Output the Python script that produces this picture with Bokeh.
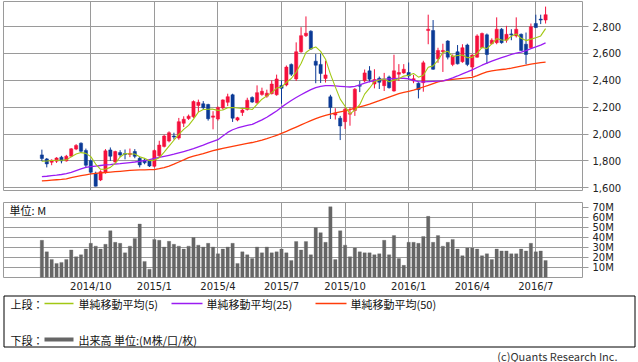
import pandas as pd
from bokeh.plotting import figure
from bokeh.layouts import column
from bokeh.models import Range1d, FixedTicker, NumeralTickFormatter, Label
from bokeh.embed import file_html
from bokeh.resources import INLINE
from bokeh.core.properties import value

# ---------------- data (weekly candles) ----------------
first_week = "2014-07-21"
opens = [1845, 1815, 1790, 1798, 1828, 1800, 1835, 1888, 1932, 1878,
         1802, 1708, 1658, 1716, 1882, 1792, 1862, 1855, 1848, 1870,
         1820, 1806, 1800, 1760, 1838, 1908, 1948, 1985, 1970, 2080,
         2115, 2128, 2212, 2225, 2220, 2125, 2112, 2194, 2236, 2292,
         2104, 2160, 2182, 2272, 2232, 2295, 2282, 2300, 2292, 2362,
         2365, 2518, 2410, 2612, 2732, 2765, 2542, 2518, 2414, 2277,
         2142, 2118, 2092, 2148, 2175, 2362, 2396, 2470, 2372, 2415,
         2360, 2425, 2320, 2445, 2455, 2458, 2395, 2378, 2382, 2770,
         2770, 2560, 2612, 2692, 2518, 2612, 2538, 2662, 2498, 2572,
         2642, 2738, 2672, 2680, 2780, 2698, 2745, 2730, 2742, 2668,
         2642, 2822, 2855, 2848]
highs = [1884, 1822, 1812, 1828, 1838, 1845, 1895, 1925, 1938, 1892,
         1810, 1720, 1730, 1888, 1900, 1876, 1880, 1885, 1892, 1888,
         1832, 1818, 1810, 1885, 1950, 1995, 2020, 2010, 2120, 2132,
         2145, 2250, 2256, 2245, 2225, 2170, 2205, 2258, 2300, 2300,
         2128, 2195, 2270, 2280, 2362, 2345, 2330, 2400, 2442, 2400,
         2510, 2525, 2682, 2795, 2875, 2772, 2595, 2598, 2545, 2292,
         2192, 2135, 2198, 2198, 2342, 2395, 2480, 2505, 2482, 2428,
         2455, 2435, 2590, 2520, 2520, 2532, 2440, 2385, 2545, 2888,
         2848, 2642, 2672, 2698, 2592, 2662, 2668, 2672, 2592, 2742,
         2755, 2748, 2712, 2868, 2788, 2805, 2780, 2868, 2748, 2755,
         2822, 2888, 2888, 2948]
lows = [1798, 1752, 1768, 1785, 1782, 1795, 1828, 1880, 1862, 1755,
        1705, 1610, 1650, 1705, 1800, 1785, 1828, 1812, 1828, 1820,
        1752, 1775, 1755, 1752, 1830, 1900, 1938, 1960, 1958, 2052,
        2105, 2120, 2162, 2182, 2100, 2035, 2100, 2182, 2208, 2090,
        2095, 2135, 2175, 2232, 2225, 2285, 2270, 2295, 2285, 2225,
        2355, 2432, 2395, 2605, 2722, 2625, 2378, 2380, 2383, 2112,
        2108, 1955, 2038, 2062, 2135, 2312, 2385, 2385, 2340, 2335,
        2320, 2338, 2315, 2395, 2448, 2405, 2378, 2265, 2315, 2668,
        2478, 2530, 2462, 2555, 2505, 2518, 2530, 2505, 2430, 2568,
        2638, 2522, 2668, 2668, 2672, 2680, 2698, 2718, 2618, 2518,
        2638, 2790, 2818, 2822]
closes = [1818, 1778, 1805, 1822, 1800, 1835, 1890, 1915, 1872, 1768,
          1716, 1612, 1720, 1875, 1835, 1870, 1845, 1848, 1856, 1834,
          1770, 1786, 1762, 1877, 1918, 1985, 2010, 1978, 2092, 2110,
          2133, 2242, 2236, 2196, 2114, 2135, 2198, 2254, 2278, 2118,
          2122, 2178, 2252, 2238, 2308, 2318, 2304, 2372, 2410, 2340,
          2498, 2445, 2612, 2732, 2750, 2632, 2512, 2450, 2440, 2197,
          2155, 2060, 2185, 2155, 2333, 2356, 2455, 2408, 2405, 2385,
          2400, 2345, 2470, 2458, 2482, 2432, 2412, 2330, 2530, 2780,
          2482, 2622, 2622, 2572, 2580, 2522, 2642, 2518, 2588, 2730,
          2748, 2592, 2698, 2780, 2680, 2742, 2738, 2780, 2622, 2592,
          2798, 2792, 2848, 2888]
volumes_m = [37, 25.5, 18, 14, 15, 18, 27.4, 20.7, 22.6, 28.3,
             34, 31.2, 28.3, 33, 46.5, 35, 34, 24.5, 31.2, 38.9,
             53.2, 16, 8.3, 37.9, 37, 30.3, 36, 33, 31.2, 28.3,
             31.2, 39.8, 32.2, 30.3, 34, 30.3, 23.6, 28.3, 30.3, 34,
             14, 25.5, 22.6, 18.8, 30.3, 24.5, 30.3, 24.5, 25.5, 28.3,
             24.5, 17, 35.8, 27.4, 35.7, 22.6, 49.4, 44.6, 35, 70.4,
             17.8, 46.5, 32.2, 20.7, 29.3, 25.5, 24.5, 24.5, 22.6, 23.6,
             37, 22.6, 41.7, 18.8, 12.1, 35, 35, 34, 40.8, 60.8,
             35, 41.7, 31.2, 35, 37.9, 28.3, 21.7, 29.3, 29.3, 28.3,
             21.7, 23.6, 17.8, 28.3, 26.4, 26.4, 23.6, 23.6, 28.3, 26.4,
             34, 25.5, 26.4, 16.9]
ma5 = [1798, 1800, 1803, 1805, 1805, 1808, 1830, 1852, 1862, 1856,
       1832, 1777, 1738, 1738, 1752, 1782, 1829, 1855, 1851, 1851,
       1831, 1819, 1802, 1806, 1823, 1866, 1910, 1954, 1997, 2035,
       2065, 2111, 2163, 2183, 2184, 2185, 2176, 2179, 2196, 2197,
       2194, 2190, 2190, 2182, 2220, 2259, 2284, 2308, 2342, 2349,
       2385, 2413, 2461, 2525, 2607, 2634, 2648, 2615, 2557, 2446,
       2351, 2260, 2207, 2150, 2178, 2218, 2297, 2341, 2391, 2402,
       2411, 2389, 2401, 2412, 2431, 2437, 2451, 2423, 2437, 2497,
       2507, 2549, 2607, 2616, 2576, 2584, 2588, 2567, 2570, 2600,
       2645, 2635, 2671, 2710, 2700, 2698, 2728, 2744, 2712, 2695,
       2706, 2717, 2730, 2784]
ma25 = [1683, 1686, 1690, 1694, 1699, 1705, 1715, 1728, 1740, 1752,
        1758, 1762, 1766, 1770, 1773, 1777, 1780, 1784, 1788, 1792,
        1797, 1803, 1810, 1818, 1826, 1834, 1842, 1850, 1860, 1870,
        1880, 1892, 1905, 1918, 1932, 1945, 1958, 1985, 2012, 2032,
        2045, 2055, 2064, 2072, 2088, 2105, 2125, 2148, 2172, 2200,
        2225, 2250, 2272, 2292, 2312, 2330, 2345, 2355, 2360, 2360,
        2358, 2355, 2352, 2350, 2355, 2365, 2378, 2390, 2398, 2405,
        2408, 2410, 2412, 2414, 2415, 2410, 2400, 2390, 2388, 2390,
        2392, 2394, 2396, 2405, 2418, 2432, 2448, 2462, 2478, 2495,
        2512, 2528, 2542, 2555, 2568, 2580, 2592, 2602, 2610, 2620,
        2635, 2648, 2662, 2678]
ma50 = [1651, 1654, 1657, 1660, 1663, 1667, 1675, 1683, 1690, 1697,
        1703, 1707, 1711, 1714, 1717, 1720, 1723, 1726, 1729, 1731,
        1733, 1734, 1735, 1736, 1742, 1750, 1762, 1776, 1792, 1808,
        1825, 1836, 1845, 1855, 1866, 1876, 1885, 1893, 1901, 1909,
        1916, 1923, 1930, 1937, 1945, 1955, 1966, 1978, 1990, 2005,
        2020, 2036, 2052, 2068, 2084, 2100, 2115, 2127, 2138, 2148,
        2157, 2165, 2172, 2182, 2192, 2202, 2212, 2222, 2235, 2248,
        2262, 2275, 2288, 2300, 2310, 2318, 2326, 2338, 2350, 2362,
        2375, 2388, 2396, 2402, 2406, 2410, 2414, 2418, 2422, 2435,
        2450, 2462, 2470, 2476, 2480, 2484, 2490, 2498, 2505, 2512,
        2520, 2526, 2531, 2535]
price_ticks = [1600, 1800, 2000, 2200, 2400, 2600, 2800]
volume_ticks = [10, 20, 30, 40, 50, 60, 70]
volume_grid = [10, 20, 30, 40, 50, 60]
quarter_labels = ["2014/10", "2015/1", "2015/4", "2015/7",
                  "2015/10", "2016/1", "2016/4", "2016/7"]
legend_top_labels = ["単純移動平均(5)", "単純移動平均(25)", "単純移動平均(50)"]
legend_bottom_label = "出来高 単位:(M株/口/枚)"

# ---------------- derived ----------------
n = len(closes)
weeks = pd.date_range(first_week, periods=n, freq="7D")
idx = list(range(n))
quarter_idx = []
for lab in quarter_labels:
    yy, mm = lab.split("/")
    d = pd.Timestamp(int(yy), int(mm), 1)
    quarter_idx.append(int((d - weeks[0]).days // 7))

UP = "#f5103c"
DOWN = "#0b3a96"
GRID = "#9a9a9a"
colors = [UP if c >= o else DOWN for o, c in zip(opens, closes)]
tops = [max(o, c) for o, c in zip(opens, closes)]
bots = [min(o, c) for o, c in zip(opens, closes)]
bots = [b if t - b >= 6 else t - 6 for t, b in zip(tops, bots)]

XR = Range1d(-7.85, 110.55)
NUM_FONT = "DejaVu Sans"
JP_FONT = "Noto Sans CJK JP"

# ---------------- price panel ----------------
p1 = figure(width=638, height=196, x_range=XR, y_range=Range1d(1580, 2986),
            x_axis_location=None, y_axis_location="right",
            toolbar_location=None, output_backend="svg",
            min_border_left=3, min_border_right=56, min_border_top=1,
            min_border_bottom=6)
p1.outline_line_color = GRID
p1.outline_line_width = 1
p1.xgrid.ticker = FixedTicker(ticks=quarter_idx)
p1.ygrid.ticker = FixedTicker(ticks=price_ticks)
p1.grid.grid_line_color = GRID
p1.grid.grid_line_width = 1
ax = p1.yaxis[0]
ax.ticker = FixedTicker(ticks=price_ticks)
ax.formatter = NumeralTickFormatter(format="0,0")
ax.axis_line_color = None
ax.major_tick_line_color = GRID
ax.major_tick_out = 6
ax.major_tick_in = 0
ax.minor_tick_line_color = None
ax.major_label_standoff = 4
ax.major_label_text_font = NUM_FONT
ax.major_label_text_font_size = "10px"
ax.major_label_text_color = "#222222"

p1.segment(x0=idx, y0=lows, x1=idx, y1=highs, line_color=colors, line_width=1)
p1.vbar(x=idx, width=0.66, top=tops, bottom=bots, fill_color=colors,
        line_color=colors, line_width=0.5)
p1.line(idx, ma50, line_color="#ff3c0a", line_width=1.3)
p1.line(idx, ma25, line_color="#9b1cf2", line_width=1.3)
p1.line(idx, ma5, line_color="#a2c814", line_width=1.1)

# ---------------- volume panel ----------------
p2 = figure(width=638, height=98, x_range=XR, y_range=Range1d(0, 74.6),
            x_axis_location="below", y_axis_location="right",
            toolbar_location=None, output_backend="svg",
            min_border_left=3, min_border_right=56, min_border_top=6,
            min_border_bottom=14)
p2.outline_line_color = GRID
p2.xgrid.ticker = FixedTicker(ticks=quarter_idx)
p2.ygrid.ticker = FixedTicker(ticks=volume_grid)
p2.grid.grid_line_color = GRID
p2.grid.grid_line_width = 1
vax = p2.yaxis[0]
vax.ticker = FixedTicker(ticks=volume_ticks)
vax.major_label_overrides = {t: f"{t}M" for t in volume_ticks}
vax.axis_line_color = None
vax.major_tick_line_color = GRID
vax.major_tick_out = 6
vax.major_tick_in = 0
vax.minor_tick_line_color = None
vax.major_label_standoff = 4
vax.major_label_text_font = NUM_FONT
vax.major_label_text_font_size = "10px"
vax.major_label_text_color = "#222222"
xax = p2.xaxis[0]
xax.ticker = FixedTicker(ticks=quarter_idx)
xax.major_label_overrides = {i: lab for i, lab in zip(quarter_idx, quarter_labels)}
xax.axis_line_color = None
xax.major_tick_line_color = None
xax.minor_tick_line_color = None
xax.major_tick_out = 0
xax.major_label_standoff = 3
xax.major_label_text_font = NUM_FONT
xax.major_label_text_font_size = "10px"
xax.major_label_text_color = "#222222"

p2.vbar(x=idx, width=0.68, top=volumes_m, bottom=0, fill_color="#666666",
        line_color="#666666", line_width=0.3)
p2.add_layout(Label(x=-6.6, y=67.3, text="単位: M", text_font=JP_FONT,
                    text_font_size="11px", text_baseline="middle",
                    text_color="#111111"))

# ---------------- legend panel (page pixel coordinates) ----------------
p3 = figure(width=638, height=68, x_range=Range1d(0, 638), y_range=Range1d(362, 294),
            x_axis_location=None, y_axis_location=None, toolbar_location=None,
            output_backend="svg", min_border=0, frame_align=False)
p3.outline_line_color = None
p3.grid.visible = False
p3.quad(left=[3.5], right=[634.5], top=[295.5], bottom=[346.5], fill_color=None,
        line_color="#000000", line_width=1)
row1, row2 = 303, 339
p3.text(x=[10, 10], y=[row1, row2], text=["上段：", "下段："], text_font=value(JP_FONT),
        text_font_size="11px", text_baseline="middle", text_color="#111111")
p3.segment(x0=[44, 171, 315], y0=[row1] * 3, x1=[73, 202, 346], y1=[row1] * 3,
           line_color=["#a2c814", "#9b1cf2", "#ff3c0a"], line_width=1.3)
p3.text(x=[78, 206, 350], y=[row1] * 3, text=legend_top_labels, text_font=value(JP_FONT),
        text_font_size="11px", text_baseline="middle", text_color="#111111")
p3.segment(x0=[44], y0=[row2], x1=[73], y1=[row2], line_color="#666666", line_width=4)
p3.text(x=[78], y=[row2], text=[legend_bottom_label], text_font=value(JP_FONT),
        text_font_size="11px", text_baseline="middle", text_color="#111111")
p3.text(x=[617], y=[355], text=["(c)Quants Research Inc."], text_font=value(JP_FONT),
        text_font_size="11px", text_baseline="middle", text_align="right",
        text_color="#333333")

layout = column(p1, p2, p3, spacing=0)
open("out.html", "w").write(file_html(layout, INLINE))
